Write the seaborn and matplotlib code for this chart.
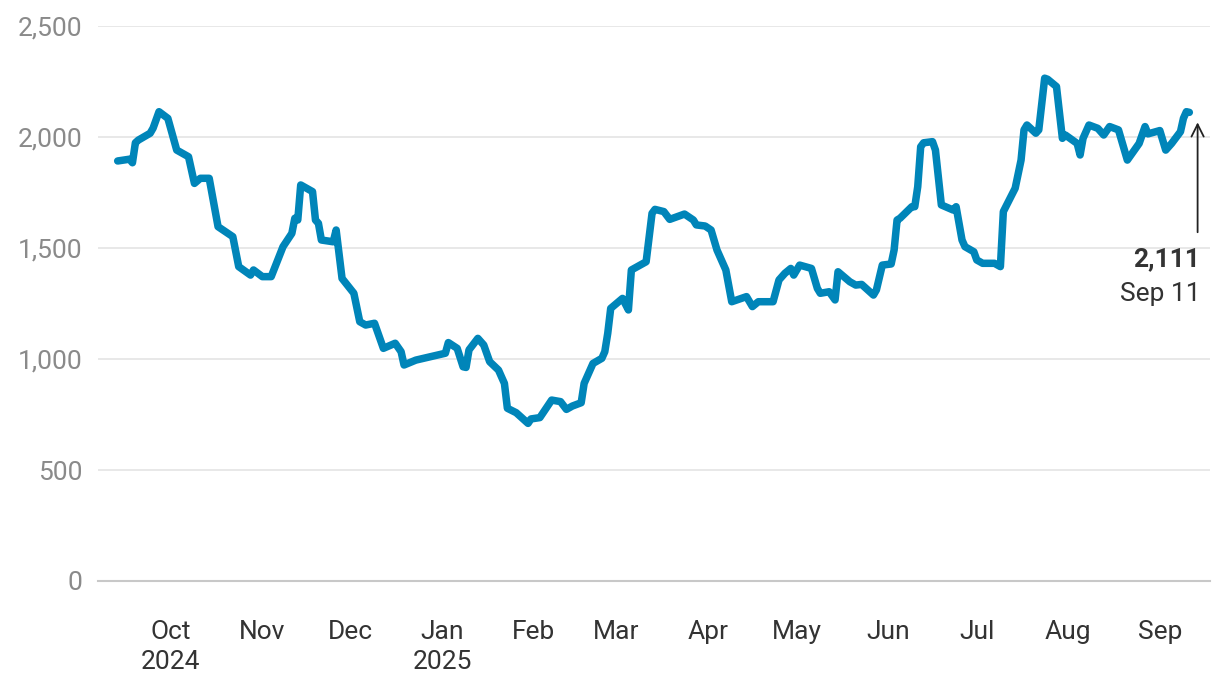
import matplotlib
matplotlib.use("Agg")
import matplotlib.pyplot as plt
import pandas as pd
import seaborn as sns

dates = [
    "2024-09-13", "2024-09-17", "2024-09-18", "2024-09-19", "2024-09-20", "2024-09-24",
    "2024-09-25", "2024-09-27", "2024-09-30", "2024-10-03", "2024-10-07", "2024-10-09",
    "2024-10-11", "2024-10-14", "2024-10-17", "2024-10-22", "2024-10-24", "2024-10-28",
    "2024-10-29", "2024-11-01", "2024-11-04", "2024-11-08", "2024-11-11", "2024-11-12",
    "2024-11-13", "2024-11-14", "2024-11-18", "2024-11-19", "2024-11-20", "2024-11-21",
    "2024-11-25", "2024-11-26", "2024-11-28", "2024-12-02", "2024-12-04", "2024-12-06",
    "2024-12-09", "2024-12-12", "2024-12-16", "2024-12-18", "2024-12-19", "2024-12-23",
    "2025-01-02", "2025-01-03", "2025-01-06", "2025-01-08", "2025-01-09", "2025-01-10",
    "2025-01-13", "2025-01-15", "2025-01-17", "2025-01-20", "2025-01-22", "2025-01-23",
    "2025-01-26", "2025-01-30", "2025-01-31", "2025-02-03", "2025-02-07", "2025-02-10",
    "2025-02-12", "2025-02-14", "2025-02-17", "2025-02-18", "2025-02-21", "2025-02-24",
    "2025-02-25", "2025-02-26", "2025-02-27", "2025-03-03", "2025-03-05", "2025-03-06",
    "2025-03-11", "2025-03-13", "2025-03-14", "2025-03-17", "2025-03-19", "2025-03-24",
    "2025-03-27", "2025-03-28", "2025-03-31", "2025-04-02", "2025-04-04", "2025-04-07",
    "2025-04-09", "2025-04-14", "2025-04-16", "2025-04-18", "2025-04-23", "2025-04-25",
    "2025-04-27", "2025-04-29", "2025-04-30", "2025-05-02", "2025-05-06", "2025-05-08",
    "2025-05-09", "2025-05-12", "2025-05-14", "2025-05-15", "2025-05-19", "2025-05-21",
    "2025-05-23", "2025-05-27", "2025-05-28", "2025-05-30", "2025-06-02", "2025-06-03",
    "2025-06-04", "2025-06-05", "2025-06-09", "2025-06-10", "2025-06-11", "2025-06-12",
    "2025-06-13", "2025-06-16", "2025-06-17", "2025-06-19", "2025-06-23", "2025-06-24",
    "2025-06-26", "2025-06-27", "2025-06-30", "2025-07-01", "2025-07-03", "2025-07-07",
    "2025-07-09", "2025-07-10", "2025-07-14", "2025-07-16", "2025-07-17", "2025-07-18",
    "2025-07-21", "2025-07-22", "2025-07-24", "2025-07-25", "2025-07-28", "2025-07-30",
    "2025-07-31", "2025-08-04", "2025-08-05", "2025-08-06", "2025-08-08", "2025-08-11",
    "2025-08-13", "2025-08-15", "2025-08-18", "2025-08-21", "2025-08-25", "2025-08-27",
    "2025-08-28", "2025-09-01", "2025-09-03", "2025-09-05", "2025-09-08", "2025-09-09",
    "2025-09-10", "2025-09-11",
]
values = [
    1892, 1900, 1884, 1974, 1986, 2017,
    2040, 2114, 2084, 1941, 1911, 1791,
    1814, 1814, 1596, 1551, 1416, 1378,
    1401, 1371, 1371, 1506, 1566, 1634,
    1626, 1784, 1754, 1626, 1611, 1536,
    1528, 1581, 1363, 1296, 1168, 1153,
    1161, 1048, 1071, 1033, 973, 995,
    1026, 1074, 1048, 965, 962, 1041,
    1093, 1063, 988, 950, 890, 778,
    758, 710, 730, 736, 815, 808,
    773, 788, 803, 890, 980, 1003,
    1033, 1116, 1228, 1273, 1221, 1401,
    1438, 1656, 1674, 1664, 1629, 1653,
    1626, 1604, 1599, 1581, 1491, 1401,
    1258, 1281, 1236, 1258, 1258, 1356,
    1386, 1408, 1378, 1423, 1408, 1318,
    1296, 1303, 1266, 1393, 1348, 1333,
    1336, 1288, 1311, 1423, 1428, 1491,
    1626, 1634, 1686, 1686, 1776, 1956,
    1974, 1979, 1941, 1694, 1671, 1686,
    1536, 1506, 1483, 1446, 1431, 1431,
    1416, 1664, 1769, 1896, 2032, 2054,
    2017, 2032, 2265, 2260, 2227, 1994,
    2009, 1971, 1919, 1994, 2054, 2039,
    2009, 2047, 2032, 1896, 1971, 2047,
    2014, 2029, 1941, 1971, 2024, 2084,
    2114, 2111,
]
month_labels = ["Oct\n2024", "Nov", "Dec", "Jan\n2025", "Feb", "Mar", "Apr",
                "May", "Jun", "Jul", "Aug", "Sep"]
y_ticks = [0, 500, 1000, 1500, 2000, 2500]
last_label = "Sep 11"

df = pd.DataFrame({"date": pd.to_datetime(dates), "value": values})

sns.set_style("white")
plt.rcParams["font.family"] = ["Roboto", "DejaVu Sans"]

fig = plt.figure(figsize=(12.2, 6.92), dpi=100)
ax = fig.add_axes([98 / 1220, 1 - 581 / 692, (1210 - 98) / 1220, (581 - 26) / 692])

sns.lineplot(data=df, x="date", y="value", ax=ax, color="#0085b9", linewidth=5.4,
             solid_joinstyle="round", solid_capstyle="round")

ax.set_ylim(0, 2500)
ax.set_xlim(pd.Timestamp("2024-09-06 08:00"), pd.Timestamp("2025-09-18"))
ax.set_yticks(y_ticks)
ax.set_yticklabels([f"{v:,}" for v in y_ticks])
ax.yaxis.grid(True, color="#e6e6e6", linewidth=1.3)
ax.xaxis.grid(False)
ax.set_axisbelow(True)

ticks = pd.date_range("2024-10-01", "2025-09-01", freq="MS")
ax.set_xticks(ticks)
ax.set_xticklabels(month_labels)

for s in ["top", "right", "left"]:
    ax.spines[s].set_visible(False)
ax.spines["bottom"].set_color("#c8c8c8")
ax.spines["bottom"].set_linewidth(1.5)

ax.tick_params(axis="y", length=0, pad=11, labelsize=19, labelcolor="#8a8a8a")
ax.tick_params(axis="x", length=14, width=1.3, color="#e3e3e3", pad=14,
               labelsize=19, labelcolor="#333333")
for lbl in ax.get_xticklabels():
    lbl.set_linespacing(1.3)
ax.set_xlabel("")
ax.set_ylabel("")

last_date = df["date"].iloc[-1]
last_val = df["value"].iloc[-1]
arrow_x = last_date + pd.Timedelta(days=2.8)
ax.annotate("", xy=(arrow_x, last_val - 45), xytext=(arrow_x, last_val - 540),
            arrowprops=dict(arrowstyle="->", color="#222222", lw=1.3,
                            mutation_scale=22, shrinkA=0, shrinkB=0))
ax.annotate(f"{last_val:,}", xy=(arrow_x, last_val - 540), xytext=(2, -11),
            textcoords="offset points", ha="right", va="top",
            fontsize=19, fontweight="bold", color="#333333")
ax.annotate(last_label, xy=(arrow_x, last_val - 540), xytext=(2, -36),
            textcoords="offset points", ha="right", va="top",
            fontsize=19, color="#333333")

fig.savefig("out.png", dpi=100, facecolor="white")
